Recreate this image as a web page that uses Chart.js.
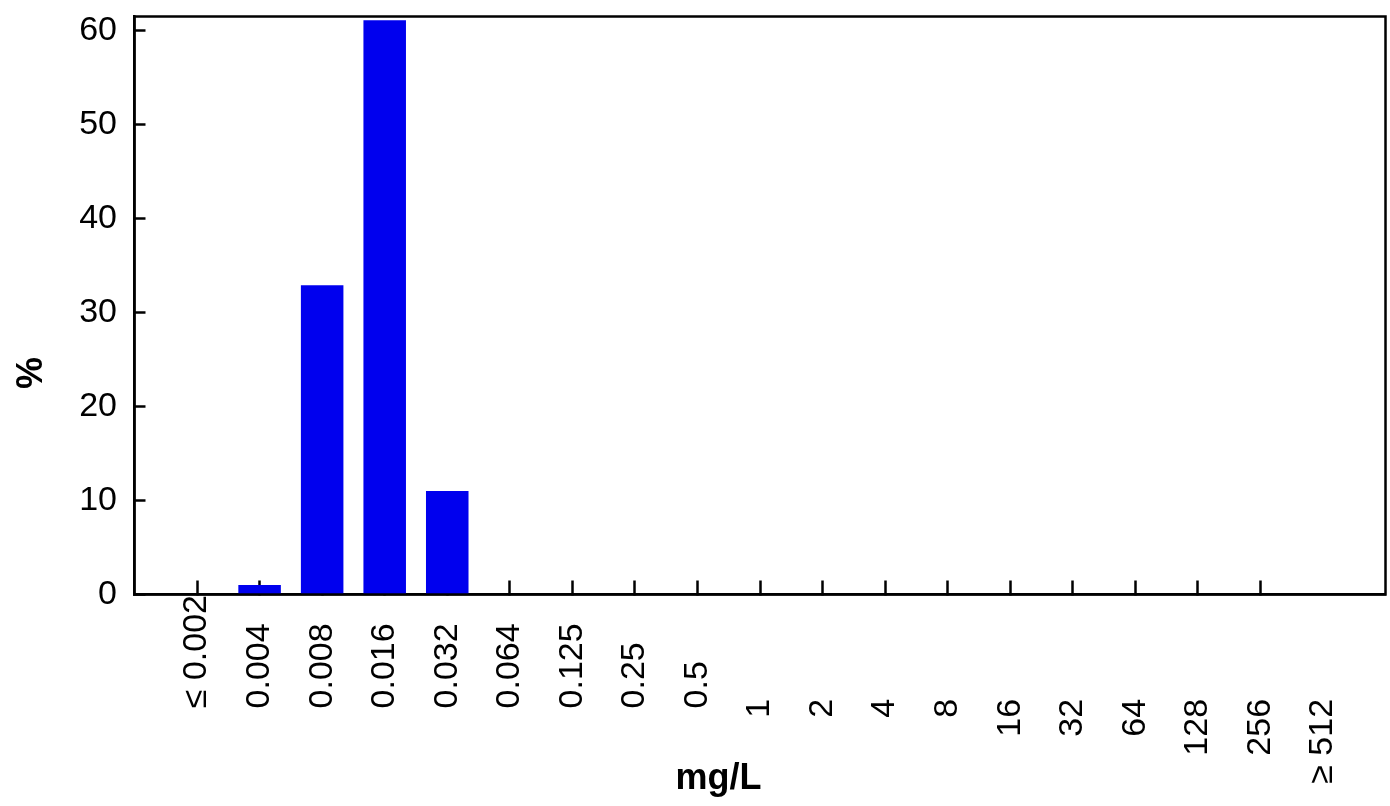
<!DOCTYPE html>
<html>
<head>
<meta charset="utf-8">
<script src="https://cdn.jsdelivr.net/npm/chart.js@4"></script>
<style>
  html, body { margin: 0; background: #fff; }
  #wrap { width: 1390px; height: 806px; position: relative; }
</style>
</head>
<body>
<div id="wrap"><canvas id="chart"></canvas></div>
<script>
const categories = ['≤ 0.002', '0.004', '0.008', '0.016', '0.032', '0.064', '0.125', '0.25', '0.5',
    '1', '2', '4', '8', '16', '32', '64', '128', '256', '≥ 512']
const percent = [0, 1.0, 32.9, 61.1, 11.0, 0, 0, 0, 0, 0, 0, 0, 0, 0, 0, 0, 0, 0, 0]
const yTicks = [0, 10, 20, 30, 40, 50, 60]
const yTitle = '%'
const xTitle = 'mg/L'

const FONT = '"Liberation Sans", Arial, sans-serif'
const TICK_SIZE = 34

Chart.defaults.font.family = FONT
Chart.defaults.color = '#000'

// one empty slot on each side, so the categories sit on ticks 1..19 of 20
const labels = ['', ...categories, '']
const values = [null, ...percent, null]

// the original stacks decimal labels against a common bottom line and the whole numbers from a common top
const measure = document.createElement('canvas').getContext('2d')
measure.font = `${TICK_SIZE}px ${FONT}`
const spaceWidth = measure.measureText('\u00a0').width
const longest = Math.max(...categories.map(c => measure.measureText(c).width))

function padLabel(text) {
    if (!text) return text
    const bottomAligned = text.includes('.') || text.includes('≤')
    const gap = bottomAligned ? longest - measure.measureText(text).width : 105
    return text + '\u00a0'.repeat(Math.max(0, Math.round(gap / spaceWidth)))
}

const frame = {
    id: 'frame',
    afterDraw(chart) {
        const { ctx, chartArea: a } = chart
        ctx.save()
        ctx.strokeStyle = '#000'
        ctx.lineWidth = 2.5
        ctx.strokeRect(a.left, a.top, a.right - a.left, a.bottom - a.top)
        ctx.restore()
    }
}

const axisTitles = {
    id: 'axisTitles',
    afterDraw(chart) {
        const { ctx } = chart
        ctx.save()
        ctx.fillStyle = '#000'
        ctx.font = `bold 36px ${FONT}`
        ctx.textAlign = 'center'
        ctx.textBaseline = 'middle'
        ctx.fillText(xTitle, 718.5, 779.5)
        ctx.translate(32.5, 373)
        ctx.rotate(-Math.PI / 2)
        ctx.fillText(yTitle, 0, 0)
        ctx.restore()
    }
}

new Chart(document.getElementById('chart'), {
    type: 'bar',
    data: {
        labels: labels,
        datasets: [{
            data: values,
            backgroundColor: '#0000ee',
            borderWidth: 0,
            categoryPercentage: 1,
            barPercentage: 0.68
        }]
    },
    options: {
        responsive: true,
        maintainAspectRatio: false,
        animation: false,
        layout: { padding: { left: 0, top: 16.5, right: 4.5, bottom: 0 } },
        plugins: {
            legend: { display: false },
            tooltip: { enabled: false }
        },
        scales: {
            x: {
                type: 'category',
                offset: false,
                z: 1,
                grid: {
                    offset: false,
                    drawOnChartArea: false,
                    tickLength: -14,
                    tickWidth: 2.5,
                    tickColor: c => (c.index > 0 && c.index < categories.length) ? '#000' : 'rgba(0,0,0,0)'
                },
                border: { color: '#000', width: 2.5 },
                ticks: {
                    autoSkip: false,
                    minRotation: 90,
                    maxRotation: 90,
                    padding: 14.5,
                    font: { size: TICK_SIZE },
                    callback: function (value) {
                        return padLabel(this.getLabelForValue(value))
                    }
                },
                afterFit(scale) {
                    scale.height = 211.5
                    scale.paddingLeft = 0
                    scale.paddingRight = 0
                }
            },
            y: {
                min: 0,
                max: 61.5,
                afterBuildTicks(scale) {
                    scale.ticks = yTicks.map(value => ({ value }))
                },
                grid: {
                    drawOnChartArea: false,
                    tickLength: -11,
                    tickWidth: 2.5,
                    tickColor: '#000'
                },
                border: { color: '#000', width: 2.5 },
                ticks: {
                    padding: 28.5,
                    font: { size: TICK_SIZE }
                },
                afterFit(scale) {
                    scale.width = 134.5
                    scale.paddingTop = 0
                    scale.paddingBottom = 0
                }
            }
        }
    },
    plugins: [frame, axisTitles]
})
</script>
</body>
</html>
